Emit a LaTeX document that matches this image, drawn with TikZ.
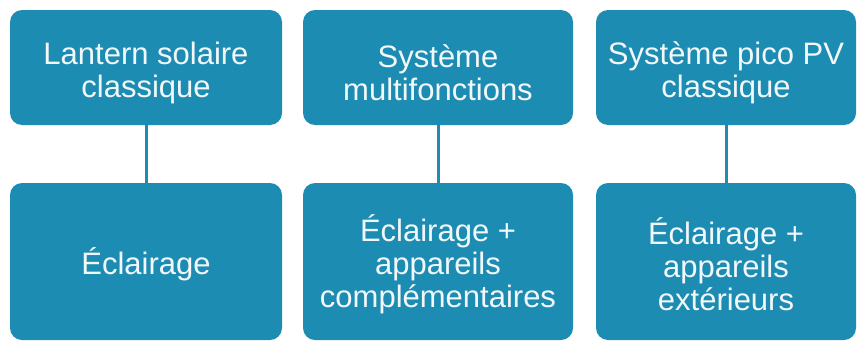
\documentclass[tikz,border=0pt]{standalone}
\usepackage{fontspec}
\setmainfont{Liberation Sans}
\definecolor{boxblue}{HTML}{1D8CB2}
\definecolor{txt}{HTML}{F2F8FA}
\begin{document}
\begin{tikzpicture}[x=1pt,y=1pt,
  box/.style={fill=boxblue, rounded corners=12pt, inner sep=0pt, outer sep=0pt},
  lbl/.style={text=txt, align=center, inner sep=0pt, font=\fontsize{31}{33}\selectfont},
  conn/.style={draw=boxblue, line width=3pt}]
\useasboundingbox (0,0) rectangle (858,-340);
\node[box, minimum width=272pt, minimum height=115pt] (t1) at (146,-67.5) {};
\node[box, minimum width=270pt, minimum height=115pt] (t2) at (438,-67.5) {};
\node[box, minimum width=260pt, minimum height=115pt] (t3) at (726,-67.5) {};
\node[box, minimum width=272pt, minimum height=157pt] (b1) at (146,-261.5) {};
\node[box, minimum width=270pt, minimum height=157pt] (b2) at (438,-261.5) {};
\node[box, minimum width=260pt, minimum height=157pt] (b3) at (726,-261.5) {};
\node[lbl] (t1l) at ([yshift=-5pt]t1.center) {Lantern solaire\\classique};
\node[lbl] (t2l) at ([yshift=-5pt]t2.center) {Système\\multifonctions};
\node[lbl] (t3l) at ([yshift=-5pt]t3.center) {Système pico PV\\classique};
\node[lbl] (b1l) at ([yshift=-3pt]b1.center) {Éclairage};
\node[lbl] (b2l) at ([yshift=-3pt]b2.center) {Éclairage +\\appareils\\complémentaires};
\node[lbl] (b3l) at ([yshift=-3pt]b3.center) {Éclairage +\\appareils\\extérieurs};
\draw[conn] (t1.south) -- (b1.north);
\draw[conn] (t2.south) -- (b2.north);
\draw[conn] (t3.south) -- (b3.north);
\end{tikzpicture}
\end{document}
